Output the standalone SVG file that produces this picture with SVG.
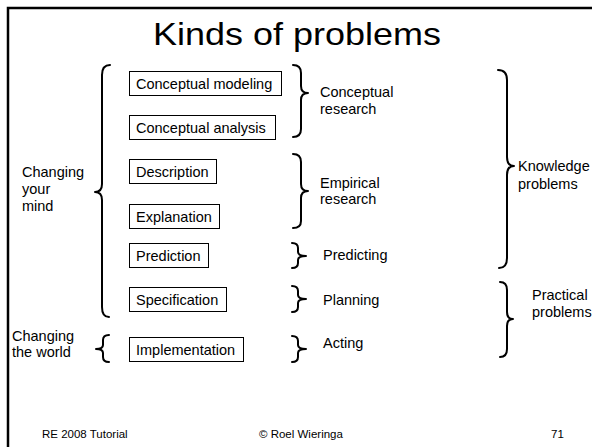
<svg xmlns="http://www.w3.org/2000/svg" width="592" height="447" viewBox="0 0 592 447">
  <style>
    text { font-family: "Liberation Sans", Arial, sans-serif; fill: #000; }
    .title { font-size: 32px; }
    .lbl { font-size: 14.5px; }
    .foot { font-size: 11.5px; }
    .box { fill: #fff; stroke: #000; stroke-width: 1; }
    .brace { fill: none; stroke: #000; stroke-width: 2; stroke-linecap: round; stroke-linejoin: round; }
    .frame { fill: none; stroke: #000; stroke-width: 2.5; }
  </style>

  <rect width="592" height="447" fill="#fff"/>
  <path class="frame" d="M8,447 L8,8 L592,8"/>

  <text class="title" x="153" y="45" textLength="288" lengthAdjust="spacingAndGlyphs">Kinds of problems</text>

  <!-- problem kinds -->
  <g id="conceptual-modeling">
    <rect class="box" x="129.5" y="71.5" width="152" height="24"/>
    <text class="lbl" x="136" y="89">Conceptual modeling</text>
  </g>
  <g id="conceptual-analysis">
    <rect class="box" x="129.5" y="115.5" width="146" height="24"/>
    <text class="lbl" x="136" y="133">Conceptual analysis</text>
  </g>
  <g id="description">
    <rect class="box" x="129.5" y="159.5" width="87" height="24"/>
    <text class="lbl" x="136" y="177">Description</text>
  </g>
  <g id="explanation">
    <rect class="box" x="129.5" y="204.5" width="90" height="24"/>
    <text class="lbl" x="136" y="222">Explanation</text>
  </g>
  <g id="prediction">
    <rect class="box" x="129.5" y="243.5" width="79" height="24"/>
    <text class="lbl" x="136" y="261">Prediction</text>
  </g>
  <g id="specification">
    <rect class="box" x="129.5" y="287.5" width="97" height="24"/>
    <text class="lbl" x="136" y="305">Specification</text>
  </g>
  <g id="implementation">
    <rect class="box" x="129.5" y="337.5" width="114" height="24"/>
    <text class="lbl" x="136" y="355">Implementation</text>
  </g>

  <!-- left-hand groupings -->
  <g id="changing-your-mind">
    <text class="lbl" x="22" y="177">Changing</text>
    <text class="lbl" x="22" y="194">your</text>
    <text class="lbl" x="22" y="211">mind</text>
  </g>
  <g id="changing-the-world">
    <text class="lbl" x="12" y="341">Changing</text>
    <text class="lbl" x="12" y="357">the world</text>
  </g>

  <!-- right-hand groupings -->
  <g id="conceptual-research">
    <text class="lbl" x="320" y="97">Conceptual</text>
    <text class="lbl" x="320" y="114">research</text>
  </g>
  <g id="empirical-research">
    <text class="lbl" x="320" y="188">Empirical</text>
    <text class="lbl" x="320" y="204">research</text>
  </g>
  <g id="predicting">
    <text class="lbl" x="323" y="260">Predicting</text>
  </g>
  <g id="planning">
    <text class="lbl" x="323" y="305">Planning</text>
  </g>
  <g id="acting">
    <text class="lbl" x="323" y="348">Acting</text>
  </g>
  <g id="knowledge-problems">
    <text class="lbl" x="518" y="171">Knowledge</text>
    <text class="lbl" x="518" y="189">problems</text>
  </g>
  <g id="practical-problems">
    <text class="lbl" x="532" y="300">Practical</text>
    <text class="lbl" x="532" y="317">problems</text>
  </g>

  <!-- braces -->
  <g id="connectors">
    <!-- left, opening right -->
    <path class="brace" d="M110,65 Q102,65 102,75 L102,184 Q102,192 95,192 Q102,192 102,200 L102,307 Q102,317 109,317"/>
    <path class="brace" d="M109,335 Q103,335 103,340 L103,345 Q103,349 96,349 Q103,349 103,353 L103,357 Q103,362 109,362"/>
    <!-- right, opening left -->
    <path class="brace" d="M293,65 Q301,65 301,73 L301,86 Q301,93 308,93 Q301,93 301,100 L301,129 Q301,137 293,137"/>
    <path class="brace" d="M293,154 Q301,154 301,162 L301,184 Q301,191 308,191 Q301,191 301,198 L301,221 Q301,228 293,228"/>
    <path class="brace" d="M292,243 Q298,243 298,248 L298,252 Q298,256 306,256 Q298,256 298,260 L298,263 Q298,268 292,268"/>
    <path class="brace" d="M292,286 Q298,286 298,291 L298,295 Q298,299 306,299 Q298,299 298,303 L298,307 Q298,312 292,312"/>
    <path class="brace" d="M292,336 Q298,336 298,341 L298,345 Q298,349 306,349 Q298,349 298,353 L298,357 Q298,362 292,362"/>
    <path class="brace" d="M498,70 Q507,70 507,80 L507,157 Q507,166 514,166 Q507,166 507,175 L507,258 Q507,268 499,268"/>
    <path class="brace" d="M500,282 Q507,282 507,290 L507,312 Q507,319 513,319 Q507,319 507,326 L507,349 Q507,357 500,357"/>
  </g>

  <!-- footer -->
  <text class="foot" x="42" y="438">RE 2008 Tutorial</text>
  <text class="foot" x="259" y="438">© Roel Wieringa</text>
  <text class="foot" x="551" y="438">71</text>
</svg>
